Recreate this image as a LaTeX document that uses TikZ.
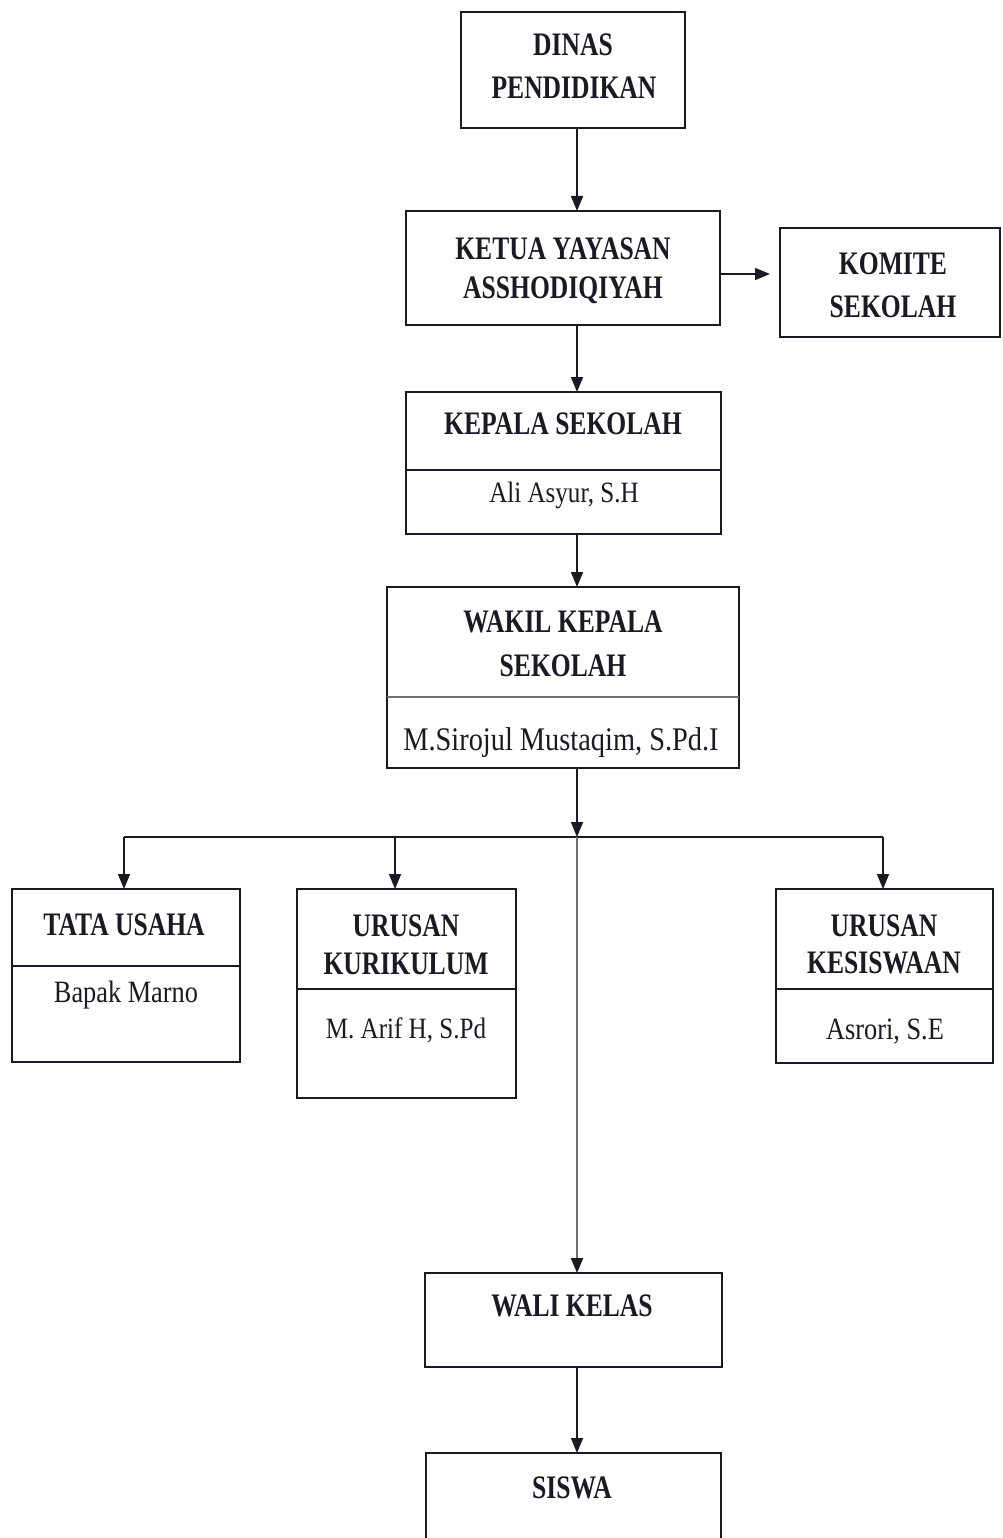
\documentclass[tikz,border=0pt]{standalone}
\usepackage{fontspec}
\setmainfont{Liberation Serif}
\newfontfamily\hb{Liberation Serif}[FakeStretch=0.78]
\newfontfamily\hr{Liberation Serif}[FakeStretch=0.85]
\newfontfamily\hrw{Liberation Serif}[FakeStretch=0.86]
\usetikzlibrary{arrows.meta}
\definecolor{ink}{HTML}{1A1A24}
\definecolor{spinegray}{HTML}{6E6E6E}
\tikzset{
  box/.style={draw=ink, line width=1.8pt, inner sep=0pt, outer sep=0pt, rectangle},
  hd/.style={font=\hb\bfseries\fontsize{32.8}{38}\selectfont, text=ink, anchor=base, inner sep=0pt},
  nm/.style={font=\hr\fontsize{31}{36}\selectfont, text=ink, anchor=base, inner sep=0pt},
  nms/.style={font=\hr\fontsize{29.5}{34}\selectfont, text=ink, anchor=base, inner sep=0pt},
  nml/.style={font=\hrw\fontsize{33}{38}\selectfont, text=ink, anchor=base, inner sep=0pt},
  arr/.style={draw=ink, line width=1.6pt, -{Triangle[length=15pt,width=12pt]}},
  divider/.style={draw=ink, line width=1.8pt},
  gdivider/.style={draw=spinegray, line width=2.8pt},
}
\begin{document}
\begin{tikzpicture}[x=1pt,y=1pt]
\useasboundingbox (0,0) rectangle (1002,-1538);
\clip (0,0) rectangle (1002,-1538);
\fill[white] (0,0) rectangle (1002,-1538);

% boxes
\node[box, minimum width=224, minimum height=116] (dinas) at (573,-70) {};
\node[box, minimum width=314, minimum height=114] (ketua) at (563,-268) {};
\node[box, minimum width=220, minimum height=109] (komite) at (890,-282.5) {};
\node[box, minimum width=315, minimum height=142] (kepala) at (563.5,-463) {};
\node[box, minimum width=352, minimum height=181] (wakil) at (563,-677.5) {};
\node[box, minimum width=228, minimum height=173] (tata) at (126,-975.5) {};
\node[box, minimum width=219, minimum height=209] (kuri) at (406.5,-993.5) {};
\node[box, minimum width=217, minimum height=174] (kesis) at (884.5,-976) {};
\node[box, minimum width=297, minimum height=94] (wali) at (573.5,-1320) {};
\node[box, minimum width=295, minimum height=107] (siswa) at (573.5,-1506.5) {};

% dividers
\coordinate (dKep) at (0,-470);
\coordinate (dWak) at (0,-697);
\coordinate (dTat) at (0,-966);
\coordinate (dKur) at (0,-989);
\coordinate (dKes) at (0,-989);
\draw[divider] (kepala.west |- dKep) -- (kepala.east |- dKep);
\draw[gdivider] (wakil.west |- dWak) -- (wakil.east |- dWak);
\draw[divider] (tata.west |- dTat) -- (tata.east |- dTat);
\draw[divider] (kuri.west |- dKur) -- (kuri.east |- dKur);
\draw[divider] (kesis.west |- dKes) -- (kesis.east |- dKes);

% texts
\node[hd] (tDinas1) at (573,-56) {DINAS};
\node[hd] (tDinas2) at (574,-99) {PENDIDIKAN};
\node[hd] (tKetua1) at (563,-259) {KETUA YAYASAN};
\node[hd] (tKetua2) at (563,-298) {ASSHODIQIYAH};
\node[hd] (tKom1) at (893,-274) {KOMITE};
\node[hd] (tKom2) at (893,-317) {SEKOLAH};
\node[hd] (tKep) at (563,-434) {KEPALA SEKOLAH};
\node[nms] (tKepN) at (564,-502) {Ali Asyur, S.H};
\node[hd] (tWak1) at (563,-632) {WAKIL KEPALA};
\node[hd] (tWak2) at (563,-676) {SEKOLAH};
\node[nml] (tWakN) at (561,-750) {M.Sirojul Mustaqim, S.Pd.I};
\node[hd] (tTat) at (124,-935) {TATA USAHA};
\node[nm] (tTatN) at (126,-1002) {Bapak Marno};
\node[hd] (tKur1) at (406,-936) {URUSAN};
\node[hd] (tKur2) at (406,-974) {KURIKULUM};
\node[nms] (tKurN) at (406,-1038) {M. Arif H, S.Pd};
\node[hd] (tKes1) at (884,-936) {URUSAN};
\node[hd] (tKes2) at (884,-973) {KESISWAAN};
\node[nm] (tKesN) at (885,-1039) {Asrori, S.E};
\node[hd] (tWali) at (572,-1316) {WALI KELAS};
\node[hd] (tSis) at (572,-1498) {SISWA};

% connectors
\coordinate (spine) at (577,0);
\coordinate (bus) at (577,-837);
\coordinate (busL) at (124,-837);
\coordinate (busK) at (395,-837);
\coordinate (busR) at (883,-837);
\coordinate (komY) at (0,-274);

\draw[arr] (dinas.south -| spine) -- (ketua.north -| spine);
\draw[arr] (ketua.south -| spine) -- (kepala.north -| spine);
\draw[arr] (kepala.south -| spine) -- (wakil.north -| spine);
\draw[arr, shorten >=10pt] (ketua.east |- komY) -- (komite.west |- komY);
\draw[arr] (wakil.south -| spine) -- (bus);
\draw[draw=ink, line width=1.6pt] (busL) -- (busR);
\draw[arr] (busL) -- (busL |- tata.north);
\draw[arr] (busK) -- (busK |- kuri.north);
\draw[arr] (busR) -- (busR |- kesis.north);
\draw[draw=spinegray, line width=2.4pt, -{Triangle[length=15pt,width=12pt,color=ink]}] (bus) -- (wali.north -| spine);
\draw[arr] (wali.south -| spine) -- (siswa.north -| spine);
\end{tikzpicture}
\end{document}
